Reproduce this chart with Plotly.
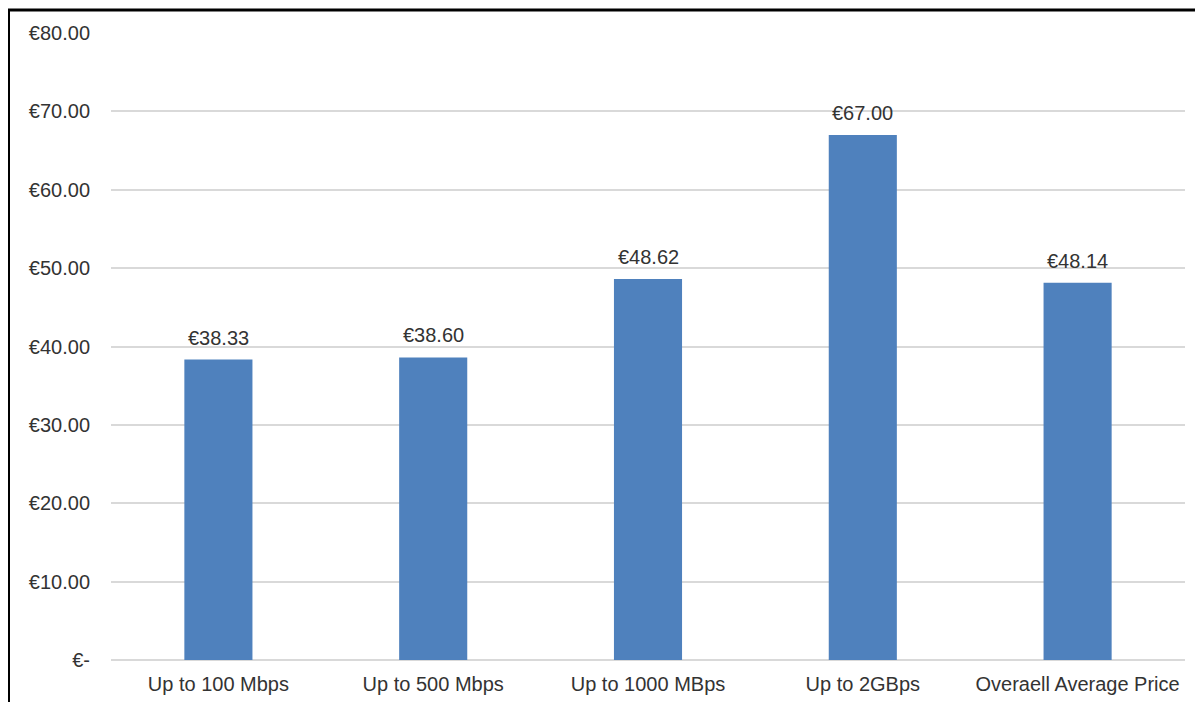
import plotly.graph_objects as go

# ------------------------------------------------------------------ #
# Data                                                                 #
# ------------------------------------------------------------------ #

categories = ["Up to 100 Mbps", "Up to 500 Mbps", "Up to 1000 MBps", "Up to 2GBps", "Overaell Average Price"]
prices = [38.33, 38.60, 48.62, 67.00, 48.14]
price_labels = ["€38.33", "€38.60", "€48.62", "€67.00", "€48.14"]

y_tickvals = [0, 10, 20, 30, 40, 50, 60, 70, 80]
y_ticktext = ["€-", "€10.00", "€20.00", "€30.00", "€40.00", "€50.00", "€60.00", "€70.00", "€80.00"]

# ------------------------------------------------------------------ #
# Layout constants                                                     #
# ------------------------------------------------------------------ #

# the page body adds an 8px margin, so the figure is sized to fit inside it
W, H = 1195, 694
M = dict(l=103, r=18, t=25, b=42)
_FONT = dict(family="Liberation Sans, Arial, sans-serif", size=20, color="#333333")
_BAR = "#4F81BD"
_GRID = "#D9D9D9"

fig = go.Figure(
    go.Bar(
        x=categories,
        y=prices,
        marker=dict(color=_BAR, line=dict(width=0)),
        hoverinfo="skip",
    )
)

# value labels above the bars
for cat, val, lab in zip(categories, prices, price_labels):
    fig.add_annotation(
        x=cat, y=val, text=lab, showarrow=False,
        yanchor="bottom", yshift=9, font=_FONT,
    )

# outer frame (top and left edges only, as in the source image)
pw = W - M["l"] - M["r"]
ph = H - M["t"] - M["b"]
def px_x(p):
    return (p - M["l"]) / pw
def px_y(p):
    return (H - M["b"] - p) / ph

frame = dict(color="black", width=3)
fig.add_shape(type="line", xref="paper", yref="paper",
              x0=px_x(0), x1=px_x(W), y0=px_y(2), y1=px_y(2), line=frame)
fig.add_shape(type="line", xref="paper", yref="paper",
              x0=px_x(0.5), x1=px_x(0.5), y0=px_y(2), y1=px_y(H + 5), line=frame)

fig.update_layout(
    width=W,
    height=H,
    margin=M,
    paper_bgcolor="white",
    plot_bgcolor="white",
    font=_FONT,
    bargap=0.683,
    showlegend=False,
    xaxis=dict(
        showgrid=False,
        showline=False,
        ticks="",
        tickfont=_FONT,
        ticklabelstandoff=10,
        automargin=False,
    ),
    yaxis=dict(
        range=[0, 80],
        tickvals=y_tickvals,
        ticktext=y_ticktext,
        showgrid=True,
        gridcolor=_GRID,
        gridwidth=1.5,
        zeroline=True,
        zerolinecolor=_GRID,
        zerolinewidth=1.5,
        showline=False,
        ticks="",
        tickfont=_FONT,
        ticklabelstandoff=20,
        automargin=False,
    ),
)

fig.write_html("out.html")
